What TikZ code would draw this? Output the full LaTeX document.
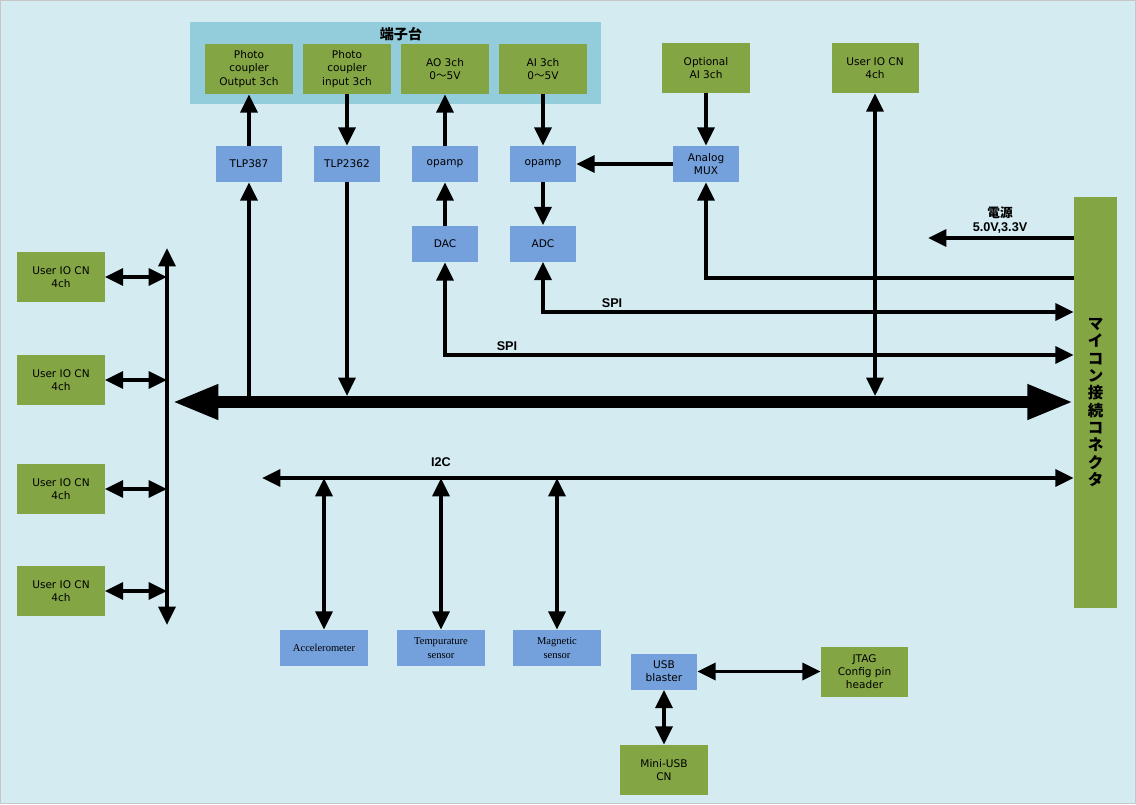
\documentclass[tikz,border=0pt]{standalone}
\usepackage{fontspec}
\setmainfont{DejaVu Sans}
\newfontfamily\labelfont{Liberation Sans}
\newfontfamily\sensfont{Liberation Serif}
\newfontfamily\cjk{Noto Sans CJK JP}
\usetikzlibrary{
    arrows.meta,
    positioning
}

\definecolor{bgblue}{HTML}{D3EBF1}
\definecolor{panelblue}{HTML}{93CDDB}
\definecolor{boxgreen}{HTML}{84A544}
\definecolor{boxblue}{HTML}{74A0DC}

\tikzset{
    greenbox/.style={fill=boxgreen, minimum width=2.175cm, minimum height=1.25cm,
        inner sep=0pt, align=center, font=\fontsize{7.5}{9.4}\selectfont},
    bluebox/.style={fill=boxblue, minimum width=1.65cm, minimum height=0.9cm,
        inner sep=0pt, align=center, font=\fontsize{7.5}{9.4}\selectfont},
    sensorbox/.style={bluebox, minimum width=2.175cm,
        font=\sensfont\fontsize{7.5}{9.5}\selectfont},
    boldlabel/.style={font=\labelfont\bfseries\fontsize{9}{10.5}\selectfont, align=center},
    arr/.style={line width=2.6pt, -{Triangle[length=13pt,width=12pt]}},
    darr/.style={line width=2.6pt,
        {Triangle[length=13pt,width=12pt]}-{Triangle[length=13pt,width=12pt]}},
    bus/.style={line width=8.5pt,
        {Triangle[length=33pt,width=23pt]}-{Triangle[length=33pt,width=23pt]}}
}

\begin{document}
\begin{tikzpicture}[x=0.025cm, y=-0.025cm]

% Background
\useasboundingbox (0,0) rectangle (1136,804);
\fill[bgblue] (0,0) rectangle (1136,804);
\draw[gray!45, line width=0.6pt] (0.5,0.5) rectangle (1135.5,803.5);

% Terminal block
\node[fill=panelblue, minimum width=10.275cm, minimum height=2.05cm, inner sep=0pt] (tbpanel) at (395.5,63) {};
\node[font=\cjk\bfseries\fontsize{10}{12}\selectfont] (tblabel) at (401,34) {端子台};
\node[greenbox] (pcout) at (249,69) {Photo\\coupler\\Output 3ch};
\node[greenbox] (pcin) at (347,69) {Photo\\coupler\\input 3ch};
\node[greenbox] (aoterm) at (445,69) {AO 3ch\\0{\cjk ～}5V};
\node[greenbox] (aiterm) at (543,69) {AI 3ch\\0{\cjk ～}5V};

% Top right
\node[greenbox] (optai) at (706,68) {Optional\\AI 3ch};
\node[greenbox] (iotr) at (875,68) {User IO CN\\4ch};

% Interface chips
\node[bluebox] (tlp387) at (249,164) {TLP387};
\node[bluebox] (tlp2362) at (347,164) {TLP2362};
\node[bluebox] (opampo) at (445,164) {opamp};
\node[bluebox] (opampi) at (543,164) {opamp};
\node[bluebox] (mux) at (706,164) {Analog\\MUX};
\node[bluebox] (dac) at (445,244) {DAC};
\node[bluebox] (adc) at (543,243.5) {ADC};

% Microcontroller connector
\node[fill=boxgreen, minimum width=1.075cm, minimum height=10.275cm, inner sep=0pt, align=center,
    font=\cjk\bfseries\fontsize{11}{12.3}\selectfont] (mcu) at (1095.5,402.5)
    {マ\\イ\\コ\\ン\\接\\続\\コ\\ネ\\ク\\タ};

% Left user IO connectors
\foreach \y [count=\i] in {277,380,489,591} {
    \node[greenbox] (iol\i) at (61,\y) {User IO CN\\4ch};
}

% Sensors
\node[sensorbox] (accel) at (324,648) {Accelerometer};
\node[sensorbox] (temp) at (441,648) {Tempurature\\sensor};
\node[sensorbox] (magn) at (557,648) {Magnetic\\sensor};

% USB / JTAG
\node[bluebox] (usbb) at (664,671.5) {USB\\blaster};
\node[greenbox] (jtag) at (864.5,671.5) {JTAG\\Config pin\\header};
\node[greenbox] (miniusb) at (664,770) {Mini-USB\\CN};

% Helper coordinates
\coordinate (busL) at (172,402);
\coordinate (bustop) at (0,396);
\coordinate (vtop) at (167,248);
\coordinate (vbot) at (167,625);
\coordinate (pwr) at (0,238);
\coordinate (pwrend) at (928,238);
\coordinate (muxline) at (0,278);
\coordinate (spia) at (0,312);
\coordinate (spib) at (0,355);
\coordinate (i2cL) at (262,478);

% Main bus
\draw[bus] (busL) -- (mcu.west |- busL);

% Left vertical bus and IO connectors
\draw[darr] (vtop) -- (vbot);
\foreach \i in {1,...,4} {
    \draw[darr] (iol\i.east) -- (iol\i.east -| vtop);
}

% Photo couplers
\draw[arr] (tlp387.north) -- (pcout.south);
\draw[arr] (tlp387.south |- busL) -- (tlp387.south);
\draw[arr] (pcin.south) -- (tlp2362.north);
\draw[arr] (tlp2362.south) -- (tlp2362.south |- bustop);

% Analog out
\draw[arr] (dac.north) -- (opampo.south);
\draw[arr] (opampo.north) -- (aoterm.south);

% Analog in
\draw[arr] (aiterm.south) -- (opampi.north);
\draw[arr] (opampi.south) -- (adc.north);
\draw[arr] (mux.west) -- (opampi.east);
\draw[arr] (optai.south) -- (mux.north);
\draw[arr] (mcu.west |- muxline) -| (mux.south);

% SPI
\draw[darr] (adc.south) |- (mcu.west |- spia);
\node[boldlabel] (spialbl) at (612,303) {SPI};
\draw[darr] (dac.south) |- (mcu.west |- spib);
\node[boldlabel] (spiblbl) at (507,346) {SPI};

% Power
\draw[arr] (mcu.west |- pwr) -- (pwrend);
\node[boldlabel] (pwrlbl) at (1000,220) {{\cjk 電源}\\5.0V,3.3V};

% User IO top right
\draw[darr] (iotr.south) -- (iotr.south |- bustop);

% I2C
\draw[darr] (i2cL) -- (mcu.west |- i2cL);
\node[boldlabel] (i2clbl) at (441,462) {I2C};
\draw[darr] (accel.north |- i2cL) -- (accel.north);
\draw[darr] (temp.north |- i2cL) -- (temp.north);
\draw[darr] (magn.north |- i2cL) -- (magn.north);

% USB blaster
\draw[darr] (usbb.east) -- (jtag.west);
\draw[darr] (usbb.south) -- (miniusb.north);

\end{tikzpicture}
\end{document}
